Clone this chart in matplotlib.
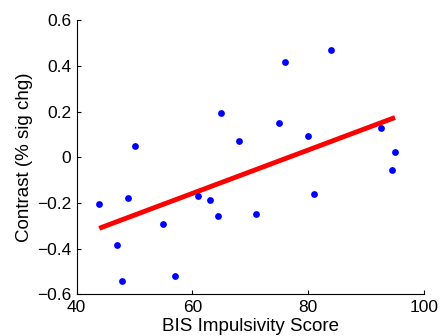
import matplotlib
matplotlib.use("Agg")
import matplotlib.pyplot as plt

bis_score = [43.9, 46.9, 47.9, 48.9, 50.0, 55.0, 57.0, 60.9, 63.0, 64.5, 65.0,
             68.0, 71.0, 75.0, 76.0, 80.0, 81.0, 84.0, 92.5, 94.5, 95.0]
contrast = [-0.206, -0.384, -0.543, -0.177, 0.049, -0.292, -0.521, -0.168, -0.186,
            -0.257, 0.195, 0.069, -0.247, 0.152, 0.416, 0.094, -0.161, 0.470,
            0.126, -0.056, 0.024]
fit_x = [43.9, 95.0]
fit_y = [-0.311, 0.174]

xticks = [40, 60, 80, 100]
yticks = [-0.6, -0.4, -0.2, 0, 0.2, 0.4, 0.6]
ytick_labels = ["\u22120.6", "\u22120.4", "\u22120.2", "0", "0.2", "0.4", "0.6"]

plt.rcParams['font.family'] = ['Liberation Sans', 'DejaVu Sans']

fig = plt.figure(figsize=(4.43, 3.36), dpi=100)
ax = fig.add_axes([0.173, 0.124, 0.784, 0.816])
ax.scatter(bis_score, contrast, s=24, color='#0000ff', zorder=3, linewidths=0)
ax.plot(fit_x, fit_y, color='#ff0000', linewidth=3.5, solid_capstyle='butt', zorder=2)

ax.set_xlim(40, 100)
ax.set_ylim(-0.6, 0.6)
ax.set_xticks(xticks)
ax.set_xticklabels([str(t) for t in xticks])
ax.set_yticks(yticks)
ax.set_yticklabels(ytick_labels)
ax.spines['top'].set_visible(False)
ax.spines['right'].set_visible(False)
ax.spines['left'].set_linewidth(0.8)
ax.spines['bottom'].set_linewidth(0.8)
ax.tick_params(direction='in', length=3, width=0.8, labelsize=12.5, pad=4)
ax.set_xlabel('BIS Impulsivity Score', fontsize=13.5, labelpad=2)
ax.set_ylabel('Contrast (% sig chg)', fontsize=13.5, labelpad=3)

fig.savefig('out.png', dpi=100)
